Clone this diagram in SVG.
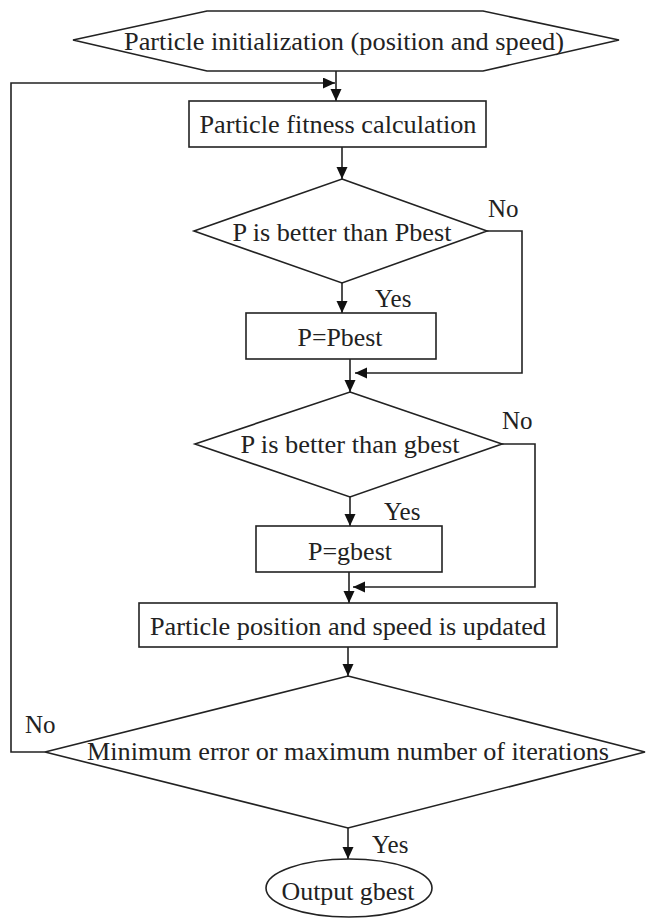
<svg xmlns="http://www.w3.org/2000/svg" width="646" height="920" viewBox="0 0 646 920">
<defs>
<marker id="arr" markerWidth="12" markerHeight="12" refX="12" refY="5.5" orient="auto" markerUnits="userSpaceOnUse">
<path d="M0,0 L12,5.5 L0,11 z" fill="#111"/>
</marker>
<style>
.s{fill:#fff;stroke:#222;stroke-width:1.6}
.c{fill:none;stroke:#222;stroke-width:1.6;marker-end:url(#arr)}
text{font-family:"Liberation Serif","Times New Roman",serif;font-size:25px;fill:#222}
.m{text-anchor:middle}
</style>
</defs>
<rect width="646" height="920" fill="#fff"/>
<g id="connectors">
<path class="c" d="M336,71 L336,101"/>
<path class="c" d="M45,752 L11,752 L11,83 L335,83"/>
<path class="c" d="M342,147 L342,179"/>
<path class="c" d="M342,283 L342,313"/>
<path class="c" d="M487,231 L522,231 L522,373 L355,373"/>
<path class="c" d="M350,359 L350,392"/>
<path class="c" d="M350,497 L350,526"/>
<path class="c" d="M502,444 L535,444 L535,587 L353,587"/>
<path class="c" d="M349,572 L349,603"/>
<path class="c" d="M348,647 L348,676"/>
<path class="c" d="M348,828 L348,859"/>
<text x="488" y="217">No</text>
<text x="375" y="307">Yes</text>
<text x="502" y="429">No</text>
<text x="384" y="520">Yes</text>
<text x="25" y="733">No</text>
<text x="372" y="853">Yes</text>
</g>
<g id="init">
<polygon class="s" points="73,40 207,11 483,11 619,40 483,71 207,71"/>
<text class="m" x="344" y="50" textLength="440" lengthAdjust="spacingAndGlyphs">Particle initialization (position and speed)</text>
</g>
<g id="fitness">
<rect class="s" x="189" y="101" width="297" height="46"/>
<text class="m" x="338" y="133" textLength="277" lengthAdjust="spacingAndGlyphs">Particle fitness calculation</text>
</g>
<g id="dec-pbest">
<polygon class="s" points="342,179 487,231 342,283 194,231"/>
<text class="m" x="342" y="241" textLength="219" lengthAdjust="spacingAndGlyphs">P is better than Pbest</text>
</g>
<g id="set-pbest">
<rect class="s" x="246" y="313" width="190" height="46"/>
<text class="m" x="340" y="346" textLength="85" lengthAdjust="spacingAndGlyphs">P=Pbest</text>
</g>
<g id="dec-gbest">
<polygon class="s" points="350,392 502,444 350,497 195,444"/>
<text class="m" x="350" y="453" textLength="219" lengthAdjust="spacingAndGlyphs">P is better than gbest</text>
</g>
<g id="set-gbest">
<rect class="s" x="256" y="526" width="186" height="46"/>
<text class="m" x="350" y="560" textLength="84" lengthAdjust="spacingAndGlyphs">P=gbest</text>
</g>
<g id="update">
<rect class="s" x="139" y="603" width="418" height="44"/>
<text class="m" x="348" y="635" textLength="396" lengthAdjust="spacingAndGlyphs">Particle position and speed is updated</text>
</g>
<g id="dec-stop">
<polygon class="s" points="348,676 645,752 348,828 45,752"/>
<text class="m" x="348" y="760" textLength="522" lengthAdjust="spacingAndGlyphs">Minimum error or maximum number of iterations</text>
</g>
<g id="output">
<ellipse class="s" cx="349" cy="888" rx="83" ry="29"/>
<text class="m" x="348" y="900" textLength="133" lengthAdjust="spacingAndGlyphs">Output gbest</text>
</g>
</svg>
